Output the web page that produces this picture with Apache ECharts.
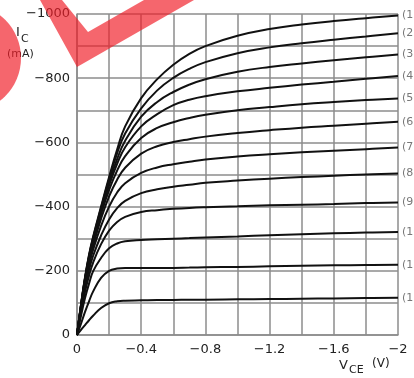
<!DOCTYPE html>
<html>
<head>
<meta charset="utf-8">
<script src="https://cdn.jsdelivr.net/npm/echarts@6/dist/echarts.min.js"></script>
<style>
  html, body { margin: 0; padding: 0; background: #fff; }
  #chart { width: 414px; height: 378px; }
</style>
</head>
<body>
<div id="chart"></div>
<script>
// Collector-emitter voltage sample points (V)
const vce = [0, -0.025, -0.05, -0.075, -0.1, -0.15, -0.2, -0.25, -0.3, -0.4, -0.5, -0.6, -0.7, -0.8, -1.0, -1.2, -1.4, -1.6, -1.8, -2.0];

// Collector current (mA) for each base-current step, curves (1) .. (12)
const ic1  = [0, -95, -180, -250, -305, -400, -492, -578, -650, -738, -797, -842, -876, -900, -932, -953, -967, -978, -987, -995];
const ic2  = [0, -94, -178, -247, -302, -396, -486, -566, -628, -706, -762, -801, -829, -850, -878, -896, -909, -920, -930, -940];
const ic3  = [0, -93, -176, -244, -298, -390, -476, -548, -605, -680, -726, -757, -780, -797, -820, -835, -846, -856, -865, -874];
const ic4  = [0, -92, -174, -241, -294, -384, -466, -533, -585, -650, -688, -716, -733, -744, -759, -770, -780, -789, -798, -807];
const ic5  = [0, -90, -170, -236, -288, -376, -452, -512, -557, -614, -645, -663, -676, -686, -700, -710, -719, -726, -732, -737];
const ic6  = [0, -88, -165, -228, -278, -362, -432, -484, -521, -565, -588, -601, -610, -618, -629, -638, -646, -652, -658, -664];
const ic7  = [0, -85, -158, -218, -265, -340, -400, -444, -473, -505, -522, -532, -540, -547, -556, -563, -569, -574, -579, -584];
const ic8  = [0, -80, -148, -203, -246, -310, -360, -395, -418, -442, -454, -462, -468, -474, -481, -487, -492, -496, -500, -503];
const ic9  = [0, -72, -135, -185, -225, -283, -325, -352, -368, -383, -389, -393, -396, -398, -401, -404, -406, -408, -411, -413];
const ic10 = [0, -60, -115, -160, -198, -240, -270, -285, -292, -296, -298, -300, -302, -304, -307, -311, -314, -317, -319, -321];
const ic11 = [0, -35, -72, -105, -135, -178, -200, -207, -209, -209, -209, -209, -210, -211, -212, -214, -216, -217, -218, -219];
const ic12 = [0, -16, -31, -46, -60, -84, -99, -105, -107, -108, -109, -109, -110, -110, -111, -112, -113, -114, -115, -116];

const curves = [ic1, ic2, ic3, ic4, ic5, ic6, ic7, ic8, ic9, ic10, ic11, ic12];
const curveNames = ['(1)', '(2)', '(3)', '(4)', '(5)', '(6)', '(7)', '(8)', '(9)', '(10)', '(11)', '(12)'];

// Axis ranges and tick steps
const xMin = -2, xMax = 0, xStep = 0.2, xLabelEvery = 0.4;
const yMin = -1000, yMax = 0, yStep = 100, yLabelEvery = 200;

const FONT = 'DejaVu Sans';
const TEXT = '#222';
const GRID = '#8c8c8c';
const MARK = 'rgba(240, 30, 40, 0.68)';

function minusFmt(v) {
  return String(v).replace('-', '\u2212');
}

const lineSeries = curves.map((vals, i) => ({
  name: curveNames[i],
  type: 'line',
  data: vce.map((v, k) => [v, vals[k]]),
  smooth: 0.45,
  showSymbol: false,
  lineStyle: { color: '#111', width: 2 },
  emphasis: { disabled: true },
  z: 3
}));

// curve tags placed just right of each curve's last point
const tagSeries = {
  type: 'scatter',
  symbolSize: 0,
  silent: true,
  clip: false,
  data: curves.map((vals, i) => ({
    value: [vce[vce.length - 1], vals[vals.length - 1]],
    name: curveNames[i]
  })),
  label: {
    show: true,
    position: 'right',
    distance: 4,
    formatter: '{b}',
    color: '#555',
    fontFamily: FONT,
    fontSize: 11
  },
  z: 4
};

const chart = echarts.init(document.getElementById('chart'), null, { renderer: 'canvas' });
chart.setOption({
  animation: false,
  backgroundColor: '#fff',
  grid: { left: 77, right: 16, top: 14, bottom: 43, containLabel: false },
  xAxis: {
    type: 'value',
    min: xMin, max: xMax, interval: xStep,
    inverse: true,
    axisLine: { show: true, lineStyle: { color: GRID, width: 1.5 } },
    axisTick: { show: false },
    splitLine: { show: true, lineStyle: { color: GRID, width: 1.5 } },
    axisLabel: {
      margin: 8,
      color: TEXT, fontFamily: FONT, fontSize: 13,
      showMinLabel: true, showMaxLabel: true,
      formatter: function (v) {
        const r = Math.round(v * 10) / 10;
        const k = Math.round(r / xLabelEvery * 10) / 10;
        if (Math.abs(k - Math.round(k)) > 1e-6) return '';
        return minusFmt(r);
      }
    }
  },
  yAxis: {
    type: 'value',
    min: yMin, max: yMax, interval: yStep,
    inverse: true,
    axisLine: { show: true, lineStyle: { color: GRID, width: 1.5 } },
    axisTick: { show: false },
    splitLine: { show: true, lineStyle: { color: GRID, width: 1.5 } },
    axisLabel: {
      margin: 7,
      color: TEXT, fontFamily: FONT, fontSize: 13,
      showMinLabel: true, showMaxLabel: true,
      formatter: function (v) {
        if (Math.round(v) % yLabelEvery !== 0) return '';
        return minusFmt(Math.round(v));
      }
    }
  },
  series: lineSeries.concat([tagSeries]),
  graphic: [
    // axis titles
    { type: 'text', left: 16, top: 26, style: { text: 'I', fill: TEXT, font: '13px "DejaVu Sans"' } },
    { type: 'text', left: 21, top: 34, style: { text: 'C', fill: TEXT, font: '11px "DejaVu Sans"' } },
    { type: 'text', left: 7, top: 49, style: { text: '(mA)', fill: TEXT, font: '11px "DejaVu Sans"' } },
    { type: 'text', left: 339, top: 359, style: { text: 'V', fill: TEXT, font: '13px "DejaVu Sans"' } },
    { type: 'text', left: 349, top: 365, style: { text: 'CE', fill: TEXT, font: '11px "DejaVu Sans"' } },
    { type: 'text', left: 372, top: 358, style: { text: '(V)', fill: TEXT, font: '12px "DejaVu Sans"' } },
    // red badge marks
    {
      type: 'circle', z: 100, silent: true,
      shape: { cx: -33, cy: 58, r: 54 },
      style: { fill: MARK }
    },
    {
      type: 'polygon', z: 100, silent: true,
      shape: { points: [[40, 0], [62, 0], [88, 32], [144, 0], [194, 0], [77, 67]] },
      style: { fill: MARK }
    }
  ]
});
</script>
</body>
</html>
